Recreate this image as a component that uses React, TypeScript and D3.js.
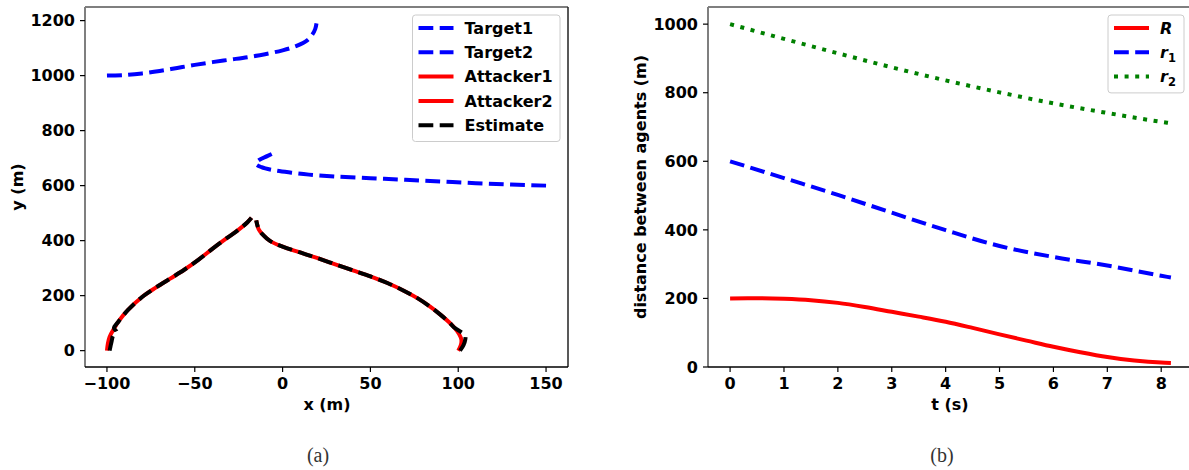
import React from 'react'
import * as d3 from 'd3'

// panel (a): trajectories, [x, y] in metres
const target1 = [[-100, 1000], [-90, 1002], [-80, 1008], [-70, 1017], [-60, 1028], [-50, 1039], [-40, 1049], [-30, 1058], [-20, 1067], [-10, 1078], [0, 1092], [8, 1108], [14, 1128], [17, 1150], [18.6, 1170], [19.3, 1190]]
const target2 = [[150, 600], [130, 604], [110, 609], [90, 615], [70, 621], [50, 627], [30, 633], [15, 640], [5, 647], [-5, 656], [-12, 667], [-15.3, 680], [-13.5, 693], [-8.5, 708], [-3, 725]]
const attacker1 = [[-100, 0], [-99.5, 25], [-98.5, 50], [-96, 80], [-93, 110], [-88, 148], [-80, 195], [-72, 230], [-64, 262], [-56, 294], [-48, 330], [-40, 370], [-32, 408], [-25, 440], [-20, 467], [-17.7, 483]]
const attacker2 = [[100, 0], [101.5, 20], [101.8, 40], [100.5, 60], [98, 82], [94.5, 105], [90, 130], [84, 160], [77, 190], [69, 218], [60, 245], [50, 270], [40, 292], [30, 314], [20, 336], [10, 357], [0, 378], [-7, 398], [-11, 420], [-13.5, 440], [-15, 474]]
const estimate1 = [[-98.5, 0], [-98, 15], [-97.3, 35], [-96.5, 55], [-94.5, 68], [-96, 82], [-93.5, 105], [-88, 148], [-80, 195], [-72, 230], [-64, 262], [-56, 294], [-48, 330], [-40, 370], [-32, 408], [-25, 440], [-20, 467], [-17.7, 483]]
const estimate2 = [[101, 0], [103, 20], [104, 40], [104, 55], [101.5, 68], [97.5, 85], [95, 102], [90, 130], [84, 160], [77, 190], [69, 218], [60, 245], [50, 270], [40, 292], [30, 314], [20, 336], [10, 357], [0, 378], [-7, 398], [-11, 420], [-13.5, 440], [-15, 474]]
const xTicksA = [-100, -50, 0, 50, 100, 150]
const yTicksA = [0, 200, 400, 600, 800, 1000, 1200]

// panel (b): distances over time
const tR = [0, 0.5, 1, 1.5, 2, 2.5, 3, 3.5, 4, 4.5, 5, 5.5, 6, 6.5, 7, 7.5, 8, 8.18]
const valR = [200, 200.5, 199, 195, 187, 175, 161, 147, 132, 114, 95, 77, 59, 43, 29, 19, 13, 12]
const tr = [0, 1, 2, 3, 4, 5, 6, 7, 8, 8.18]
const valR1 = [600, 551, 502, 450, 399, 353, 321, 296, 266, 261]
const valR2 = [1000, 957, 915, 874, 836, 801, 769, 741, 715, 711]
const xTicksB = [0, 1, 2, 3, 4, 5, 6, 7, 8]
const yTicksB = [0, 200, 400, 600, 800, 1000]

const LW = 4
const DASH = '14.8,6.4'
const DOT = '4,6.6'
const FS = 16
const font = "'DejaVu Sans', sans-serif"
const fmt = (v: number) => (v < 0 ? '\u2212' + Math.abs(v) : String(v))

function Axes({ x, y, xTicks, yTicks, children, clipId }: any) {
  const [x0, x1] = x.range()
  const [y0, y1] = y.range()
  return (
    <g>
      <defs>
        <clipPath id={clipId}>
          <rect x={x0} y={y1} width={x1 - x0} height={y0 - y1} />
        </clipPath>
      </defs>
      <g clipPath={`url(#${clipId})`}>{children}</g>
      <line x1={x0} x2={x1} y1={y1} y2={y1} stroke="#7f7f7f" strokeWidth={2} />
      <line x1={x1} x2={x1} y1={y1} y2={y0} stroke="#222" strokeWidth={1.5} />
      <line x1={x0} x2={x0} y1={y1} y2={y0} stroke="#7f7f7f" strokeWidth={2} />
      <line x1={x0} x2={x1} y1={y0} y2={y0} stroke="#000" strokeWidth={1.5} />
      {xTicks.map((t: number) => (
        <g key={'x' + t}>
          <line x1={x(t)} x2={x(t)} y1={y0} y2={y0 + 5} stroke="#000" strokeWidth={1.2} />
          <text x={x(t)} y={y0 + 22} textAnchor="middle" fontFamily={font} fontWeight="bold" fontSize={FS}>{fmt(t)}</text>
        </g>
      ))}
      {yTicks.map((t: number) => (
        <g key={'y' + t}>
          <line x1={x0 - 5} x2={x0} y1={y(t)} y2={y(t)} stroke="#000" strokeWidth={1.2} />
          <text x={x0 - 10} y={y(t)} dy="0.36em" textAnchor="end" fontFamily={font} fontWeight="bold" fontSize={FS}>{fmt(t)}</text>
        </g>
      ))}
    </g>
  )
}

function LegendBox({ x, y, w, items }: any) {
  return (
    <g>
      <rect x={x} y={y} width={w} height={items.length * 24.3 + 5} rx={3} fill="#fff" fillOpacity={0.8} stroke="#cccccc" />
      {items.map((it: any, i: number) => {
        const cy = y + 13 + i * 24.3
        return (
          <g key={i}>
            <line x1={x + 6} x2={x + 41} y1={cy} y2={cy} stroke={it.color} strokeWidth={LW} strokeDasharray={it.dash || null} />
            <text x={x + 52} y={cy} dy="0.36em" fontFamily={font} fontWeight="bold" fontSize={FS}>{it.label}</text>
          </g>
        )
      })}
    </g>
  )
}

export default function App() {
  // panel (a) scales
  const xA = d3.scaleLinear().domain([-112.5, 162.5]).range([85, 568])
  const yA = d3.scaleLinear().domain([-59.5, 1249.5]).range([367, 7])
  const pathA = d3.line<number[]>().x(d => xA(d[0])).y(d => yA(d[1])).curve(d3.curveCatmullRom)

  // panel (b) scales
  const xB = d3.scaleLinear().domain([-0.41, 8.59]).range([708, 1193])
  const yB = d3.scaleLinear().domain([0, 1050]).range([367, 7])
  const lineB = (ts: number[], vs: number[]) =>
    d3.line<number>().x((_, i) => xB(ts[i])).y(d => yB(d)).curve(d3.curveMonotoneX)(vs) || ''

  const sub = (s: string) => (
    <tspan>
      <tspan fontStyle="italic">r</tspan>
      <tspan fontSize={11.5} dy={4}>{s}</tspan>
    </tspan>
  )

  return (
    <svg width={1189} height={470} style={{ position: 'absolute', left: 0, top: 0, background: '#fff' }}>
      <Axes x={xA} y={yA} xTicks={xTicksA} yTicks={yTicksA} clipId="clipA">
        <path d={pathA(target1) || ''} fill="none" stroke="#0000ff" strokeWidth={LW} strokeDasharray={DASH} />
        <path d={pathA(target2) || ''} fill="none" stroke="#0000ff" strokeWidth={LW} strokeDasharray={DASH} />
        <path d={pathA(attacker1) || ''} fill="none" stroke="#ff0000" strokeWidth={LW} />
        <path d={pathA(attacker2) || ''} fill="none" stroke="#ff0000" strokeWidth={LW} />
        <path d={pathA(estimate1) || ''} fill="none" stroke="#000" strokeWidth={LW} strokeDasharray={DASH} />
        <path d={pathA(estimate2) || ''} fill="none" stroke="#000" strokeWidth={LW} strokeDasharray={DASH} />
      </Axes>
      <LegendBox x={412.5} y={15} w={147.5} items={[
        { label: 'Target1', color: '#0000ff', dash: DASH },
        { label: 'Target2', color: '#0000ff', dash: DASH },
        { label: 'Attacker1', color: '#ff0000' },
        { label: 'Attacker2', color: '#ff0000' },
        { label: 'Estimate', color: '#000', dash: DASH },
      ]} />
      <text x={327} y={410} textAnchor="middle" fontFamily={font} fontWeight="bold" fontSize={FS}>x (m)</text>
      <text transform="translate(23,187) rotate(-90)" textAnchor="middle" fontFamily={font} fontWeight="bold" fontSize={FS}>y (m)</text>
      <text x={318} y={462} textAnchor="middle" fontFamily="'Liberation Serif', 'DejaVu Serif', serif" fontSize={20} fill="#333">(a)</text>

      <Axes x={xB} y={yB} xTicks={xTicksB} yTicks={yTicksB} clipId="clipB">
        <path d={lineB(tR, valR)} fill="none" stroke="#ff0000" strokeWidth={LW} />
        <path d={lineB(tr, valR1)} fill="none" stroke="#0000ff" strokeWidth={LW} strokeDasharray={DASH} />
        <path d={lineB(tr, valR2)} fill="none" stroke="#008000" strokeWidth={LW} strokeDasharray={DOT} />
      </Axes>
      <LegendBox x={1108} y={15} w={76} items={[
        { label: <tspan fontStyle="italic">R</tspan>, color: '#ff0000' },
        { label: sub('1'), color: '#0000ff', dash: DASH },
        { label: sub('2'), color: '#008000', dash: DOT },
      ]} />
      <text x={950} y={410} textAnchor="middle" fontFamily={font} fontWeight="bold" fontSize={FS}>t (s)</text>
      <text transform="translate(646,187) rotate(-90)" textAnchor="middle" fontFamily={font} fontWeight="bold" fontSize={FS}>distance between agents (m)</text>
      <text x={942} y={462} textAnchor="middle" fontFamily="'Liberation Serif', 'DejaVu Serif', serif" fontSize={20} fill="#333">(b)</text>
    </svg>
  )
}
